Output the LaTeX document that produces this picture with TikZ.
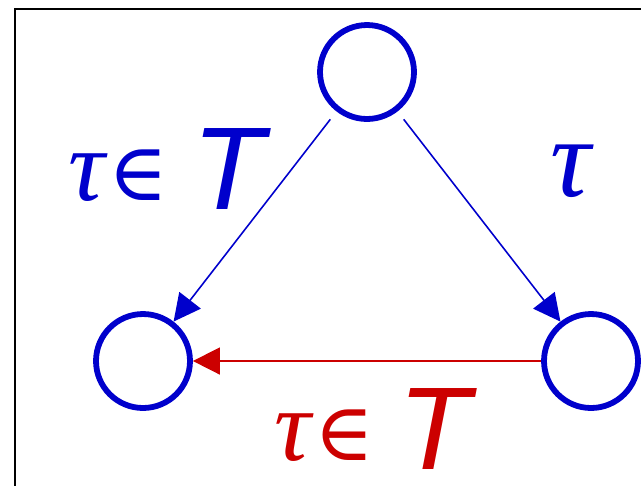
\documentclass[tikz,border=0pt]{standalone}
\usepackage{fontspec}
\setsansfont{Liberation Sans}
\newfontfamily\greekfont{Liberation Serif}
\newfontfamily\symbfont{DejaVu Serif}
\usetikzlibrary{arrows.meta}

\definecolor{stateblue}{RGB}{0,0,204}
\definecolor{transred}{RGB}{204,0,0}

\newcommand{\tauin}{{\fontsize{58}{64}\selectfont\greekfont\itshape τ}\hspace{0.08cm}{\fontsize{46}{54}\selectfont\symbfont ∈}\hspace{0.47cm}\raisebox{-0.18cm}{\fontsize{67}{76}\selectfont\sffamily\itshape T}}

\begin{document}
\begin{tikzpicture}[
    x=0.02cm, y=-0.02cm,
    state/.style={circle, draw=stateblue, line width=3.3pt, minimum size=1.88cm, inner sep=0pt},
    trans/.style={-{Triangle[length=0.54cm, width=0.54cm]}, line width=0.9pt},
    lbl/.style={inner sep=0pt, anchor=base west},
  ]
  \useasboundingbox (0,0) rectangle (641,485);

  % Frame
  \draw[line width=1.4pt, line cap=rect] (15,485) -- (15,9) -- (641,9);

  % Nodes
  \node[state] (top) at (367, 72)  {};
  \node[state] (bl)  at (143, 361) {};
  \node[state] (br)  at (591, 361) {};

  % Edges
  \draw[trans, color=stateblue, shorten <=0.2cm] (top) -- (bl);
  \draw[trans, color=stateblue, shorten <=0.2cm] (top) -- (br);
  \draw[trans, color=transred] (br) -- (bl);

  % Labels
  \node[lbl, text=stateblue] (lblA) at (68, 200) {\tauin};
  \node[lbl, text=stateblue] (lblB) at (550, 196)
    {\fontsize{64}{70}\selectfont\greekfont\itshape τ};
  \node[lbl, text=transred] (lblC) at (274, 460) {\tauin};
\end{tikzpicture}
\end{document}
